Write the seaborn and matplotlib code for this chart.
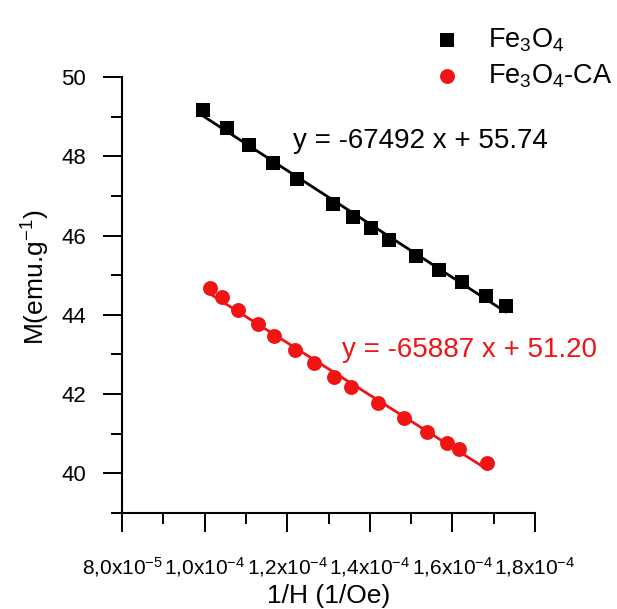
import numpy as np
import pandas as pd
import matplotlib
matplotlib.use("Agg")
import matplotlib.pyplot as plt
from matplotlib.ticker import MultipleLocator, FixedLocator, FixedFormatter
import seaborn as sns

# Fe3O4 (black squares)
x_fe = [9.97e-5, 10.54e-5, 11.08e-5, 11.66e-5, 12.23e-5, 13.12e-5, 13.60e-5,
        14.02e-5, 14.47e-5, 15.12e-5, 15.68e-5, 16.23e-5, 16.81e-5, 17.30e-5]
m_fe = [49.17, 48.71, 48.29, 47.84, 47.42, 46.79, 46.46,
        46.19, 45.89, 45.49, 45.13, 44.83, 44.48, 44.22]

# Fe3O4-CA (red circles)
x_ca = [10.13e-5, 10.41e-5, 10.82e-5, 11.29e-5, 11.68e-5, 12.19e-5, 12.66e-5, 13.13e-5,
        13.54e-5, 14.19e-5, 14.82e-5, 15.38e-5, 15.86e-5, 16.17e-5, 16.83e-5]
m_ca = [44.67, 44.44, 44.12, 43.76, 43.47, 43.10, 42.78, 42.44,
        42.19, 41.77, 41.39, 41.05, 40.77, 40.61, 40.27]

x_ticks = [8e-5, 10e-5, 12e-5, 14e-5, 16e-5, 18e-5]
x_tick_labels = [r"8,0x10$^{\mathregular{-5}}$", r"1,0x10$^{\mathregular{-4}}$",
                 r"1,2x10$^{\mathregular{-4}}$", r"1,4x10$^{\mathregular{-4}}$",
                 r"1,6x10$^{\mathregular{-4}}$", r"1,8x10$^{\mathregular{-4}}$"]
y_ticks = [40, 42, 44, 46, 48, 50]

eq_fe = "y = -67492 x + 55.74"
eq_ca = "y = -65887 x + 51.20"

black = "#000000"
red = "#f01414"

sns.set_style("ticks")
plt.rcParams["font.family"] = ["Liberation Sans", "DejaVu Sans"]
plt.rcParams["mathtext.fontset"] = "custom"
plt.rcParams["mathtext.rm"] = "Liberation Sans"
plt.rcParams["mathtext.it"] = "Liberation Sans:italic"
plt.rcParams["mathtext.bf"] = "Liberation Sans:bold"
for key in ["text.color", "axes.labelcolor", "xtick.color", "ytick.color", "axes.edgecolor"]:
    plt.rcParams[key] = "black"

fig = plt.figure(figsize=(6.17, 6.09), dpi=100)
ax = fig.add_axes([122 / 617, 1 - 513 / 609, (535 - 122) / 617, (513 - 77) / 609])

df_fe = pd.DataFrame({"x": x_fe, "M": m_fe})
df_ca = pd.DataFrame({"x": x_ca, "M": m_ca})

sns.regplot(data=df_fe, x="x", y="M", ax=ax, ci=None, marker="s", color=black,
            label="Fe$_{\\mathregular{3}}$O$_{\\mathregular{4}}$",
            scatter_kws={"s": 100, "linewidths": 0, "alpha": 1, "zorder": 3},
            line_kws={"lw": 2.0, "zorder": 2})
sns.regplot(data=df_ca, x="x", y="M", ax=ax, ci=None, marker="o", color=red,
            label="Fe$_{\\mathregular{3}}$O$_{\\mathregular{4}}$-CA",
            scatter_kws={"s": 115, "linewidths": 0, "alpha": 1, "zorder": 3},
            line_kws={"lw": 2.0, "zorder": 2})

ax.set_xlim(8e-5, 18e-5)
ax.set_ylim(39, 50)
ax.xaxis.set_major_locator(FixedLocator(x_ticks))
ax.xaxis.set_major_formatter(FixedFormatter(x_tick_labels))
ax.xaxis.set_minor_locator(MultipleLocator(1e-5))
ax.yaxis.set_major_locator(FixedLocator(y_ticks))
ax.yaxis.set_minor_locator(MultipleLocator(1))

sns.despine(ax=ax)
for side in ["left", "bottom"]:
    ax.spines[side].set_linewidth(1.5)
ax.tick_params(which="major", direction="out", length=14, width=1.4, pad=12)
ax.tick_params(which="minor", direction="out", length=8, width=1.4)
ax.tick_params(axis="y", which="major", labelsize=16)
ax.tick_params(axis="x", which="major", labelsize=15, pad=16)

ax.set_xlabel("1/H (1/Oe)", fontsize=19)
ax.set_ylabel("M(emu.g$^{\\mathregular{-1}}$)", fontsize=19)
ax.xaxis.set_label_coords(0.5, -0.163)
ax.yaxis.set_label_coords(-0.17, 0.54)

ax.text(12.14e-5, 48.39, eq_fe, color=black, fontsize=20, ha="left", va="center")
ax.text(13.33e-5, 43.11, eq_ca, color=red, fontsize=20, ha="left", va="center")

leg = ax.legend(loc="upper left", bbox_to_anchor=(396 / 617, 1 - 2 / 609),
                bbox_transform=fig.transFigure, frameon=False, fontsize=19.5,
                handletextpad=0.5, labelspacing=0.3, markerscale=1.0)

fig.savefig("out.png", dpi=100)
